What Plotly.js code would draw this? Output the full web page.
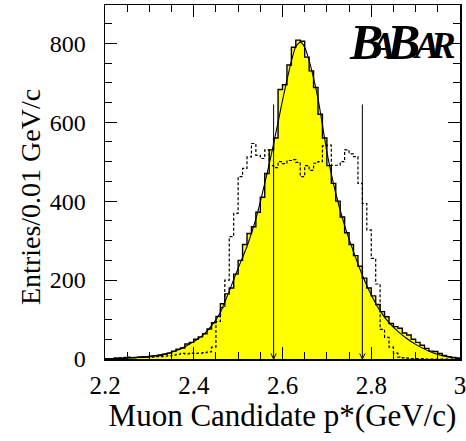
<!DOCTYPE html>
<html>
<head>
<meta charset="utf-8">
<script src="https://cdn.plot.ly/plotly-3.0.1.min.js"></script>
<style>html,body{margin:0;padding:0;background:#fff;}#chart{width:466px;height:441px;}</style>
</head>
<body>
<div id="chart"></div>
<script>
// Bin left edges (bin width 0.01 GeV/c), 2.20 ... 2.99
const binWidth = 0.01;
const binEdges = [
  2.20,2.21,2.22,2.23,2.24,2.25,2.26,2.27,2.28,2.29,
  2.30,2.31,2.32,2.33,2.34,2.35,2.36,2.37,2.38,2.39,
  2.40,2.41,2.42,2.43,2.44,2.45,2.46,2.47,2.48,2.49,
  2.50,2.51,2.52,2.53,2.54,2.55,2.56,2.57,2.58,2.59,
  2.60,2.61,2.62,2.63,2.64,2.65,2.66,2.67,2.68,2.69,
  2.70,2.71,2.72,2.73,2.74,2.75,2.76,2.77,2.78,2.79,
  2.80,2.81,2.82,2.83,2.84,2.85,2.86,2.87,2.88,2.89,
  2.90,2.91,2.92,2.93,2.94,2.95,2.96,2.97,2.98,2.99
];
// Signal (solid, yellow) histogram entries
const signalCounts = [
  1,1,2,2,2,3,3,4,5,5,
  7,8,9,12,15,20,25,28,38,42,
  50,56,64,76,92,108,140,165,180,215,
  250,290,318,335,372,410,470,530,560,683,
  695,745,790,808,805,765,730,688,620,560,
  490,445,400,360,320,290,262,235,205,180,
  160,138,120,107,90,82,78,66,61,50,
  42,35,27,20,19,14,9,6,4,2
];
// Comparison (dotted) histogram entries
const dottedCounts = [
  0,0,2,3,4,5,4,5,4,5,
  5,6,6,7,8,10,12,14,13,15,
  14,15,16,18,30,95,130,200,310,369,
  462,483,512,546,516,508,530,490,485,500,
  495,503,505,498,462,490,478,496,500,540,
  542,491,491,500,530,520,513,445,394,327,
  255,190,75,55,30,15,5,3,2,1,
  1,1,0,0,0,0,0,0,0,0
];
// Fit curve, read at these momenta
const fitX = [2.20,2.22,2.24,2.26,2.28,2.30,2.32,2.34,2.36,2.38,2.40,2.42,2.44,2.46,2.48,2.50,2.52,2.54,2.56,2.58,2.60,2.62,2.63,2.64,2.65,2.66,2.68,2.70,2.72,2.74,2.76,2.78,2.80,2.82,2.84,2.86,2.88,2.90,2.92,2.94,2.96,2.98,3.00];
const fitY = [0.5,1,2,3,5,7,10,14,21,31,44,60,84,118,172,230,285,355,445,545,655,755,792,803,790,756,660,525,420,338,272,212,162,122,92,70,52,37,25,15,8,4,2];
// Selection cut positions (arrows)
const cutValues = [2.58, 2.78];
const cutArrowTop = 645;

// tick labels
const xTickVals = [2.2, 2.4, 2.6, 2.8, 3.0];
const xTickText = ["2.2", "2.4", "2.6", "2.8", "3"];
const yTickVals = [0, 200, 400, 600, 800];
const yTickText = ["0", "200", "400", "600", "800"];
const xTitle = 'Muon Candidate p*(GeV/c)';
const yTitle = 'Entries/0.01 GeV/c';

// experiment logo letters
const logoLetters = ["B", "A", "B", "A", "R"];

function stepXY(edges, counts) {
  const x = edges.slice();
  x.push(edges[edges.length - 1] + binWidth);
  const y = counts.slice();
  y.push(counts[counts.length - 1]);
  return {x: x, y: y};
}

const sig = stepXY(binEdges, signalCounts);
const dot = stepXY(binEdges, dottedCounts);

const traces = [];
traces.push({
  type: 'scatter', mode: 'lines', x: sig.x, y: sig.y,
  line: {shape: 'hv', color: 'rgba(0,0,0,0)', width: 0},
  fill: 'tozeroy', fillcolor: '#ffff00', hoverinfo: 'skip'
});
traces.push({
  type: 'scatter', mode: 'lines', x: dot.x, y: dot.y,
  line: {shape: 'hv', color: '#000', width: 1.2, dash: '3px,2px'}, hoverinfo: 'skip'
});
traces.push({
  type: 'scatter', mode: 'lines', x: sig.x, y: sig.y,
  line: {shape: 'hv', color: '#000', width: 1.4}, hoverinfo: 'skip'
});
traces.push({
  type: 'scatter', mode: 'lines', x: fitX, y: fitY,
  line: {shape: 'spline', smoothing: 0.6, color: '#000', width: 1.1}, hoverinfo: 'skip'
});
const headHalfW = 0.006, headH = 14;
cutValues.forEach(function (c) {
  traces.push({
    type: 'scatter', mode: 'lines',
    x: [c, c, null, c - headHalfW, c, c + headHalfW],
    y: [cutArrowTop, 0, null, headH, 0, headH],
    line: {color: '#000', width: 1}, hoverinfo: 'skip'
  });
});

const serif = 'Liberation Serif';

// logo letter placement (left edge in px, size)
const logoLeftPx = [347, 367, 384, 411, 428];
const logoSize = [50, 37, 50, 37, 37];
const plotL = 105, plotW = 355, plotT = 5, plotH = 354;
const baselinePx = 57;
const annotations = logoLetters.map(function (ch, i) {
  return {
    xref: 'paper', yref: 'paper',
    x: (logoLeftPx[i] - plotL) / plotW,
    y: (plotT + plotH - baselinePx) / plotH,
    xanchor: 'left', yanchor: 'bottom', yshift: -logoSize[i] * 0.3,
    showarrow: false,
    text: '<b><i>' + ch + '</i></b>',
    font: {family: serif, size: logoSize[i], color: '#000'}
  };
});
// y-axis title (placed like the reference, slightly below axis centre)
annotations.push({
  xref: 'paper', yref: 'paper',
  x: (30 - plotL) / plotW, y: (plotT + plotH - 197) / plotH,
  xanchor: 'center', yanchor: 'middle', textangle: -90, showarrow: false,
  text: yTitle, font: {family: serif, size: 28, color: '#000'}
});

const layout = {
  width: 466, height: 441,
  margin: {l: 105, r: 6, t: 5, b: 82},
  paper_bgcolor: '#fff', plot_bgcolor: '#fff',
  showlegend: false,
  font: {family: serif, color: '#000', size: 22},
  xaxis: {
    range: [2.2, 3.0], tickvals: xTickVals, ticktext: xTickText,
    ticks: 'inside', ticklen: 12, tickwidth: 1, tickcolor: '#000',
    minor: {dtick: 0.05, ticks: 'inside', ticklen: 7, tickwidth: 1, tickcolor: '#000'},
    showline: true, linecolor: '#000', linewidth: 1.5, mirror: 'ticks',
    showgrid: false, zeroline: false, ticklabelstandoff: 3, ticklabeloverflow: 'allow',
    tickfont: {family: serif, size: 25, color: '#000'},
    title: {text: xTitle, font: {family: serif, size: 31, color: '#000'}, standoff: 3}
  },
  yaxis: {
    range: [0, 897], tickvals: yTickVals, ticktext: yTickText,
    ticks: 'inside', ticklen: 12, tickwidth: 1, tickcolor: '#000',
    minor: {dtick: 50, ticks: 'inside', ticklen: 7, tickwidth: 1, tickcolor: '#000'},
    showline: true, linecolor: '#000', linewidth: 1.5, mirror: 'ticks',
    showgrid: false, zeroline: false, ticklabelstandoff: 13,
    tickfont: {family: serif, size: 24, color: '#000'}
  },
  annotations: annotations
};

Plotly.newPlot('chart', traces, layout, {staticPlot: true, displayModeBar: false});
</script>
</body>
</html>
